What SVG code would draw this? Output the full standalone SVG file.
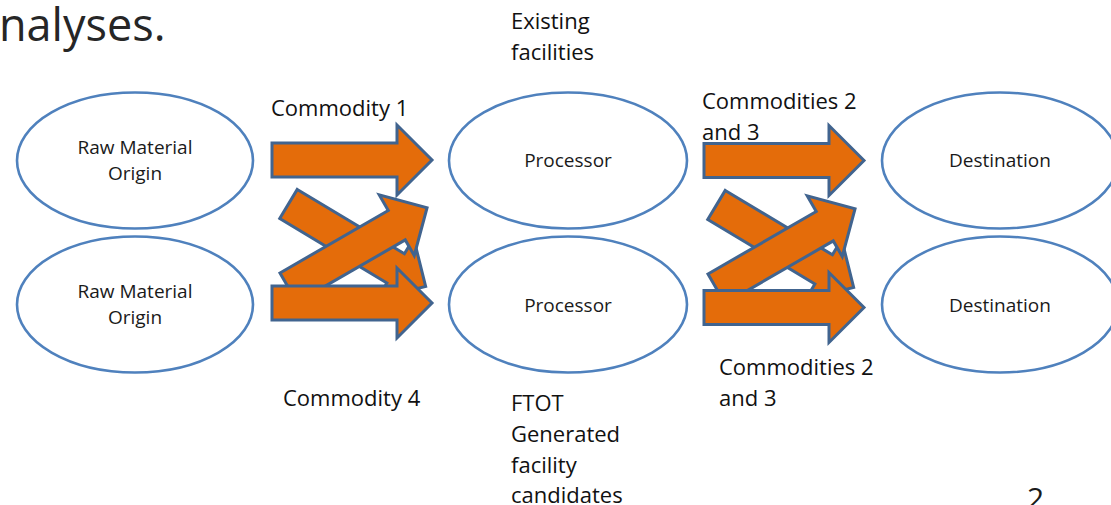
<svg xmlns="http://www.w3.org/2000/svg" xmlns:xlink="http://www.w3.org/1999/xlink" width="1111" height="505" viewBox="0 0 1111 505">
  <style>
    .node { fill: #ffffff; stroke: #4f81bd; stroke-width: 2.6; }
    .ntext { font-family: "Open Sans", "Liberation Sans", sans-serif; font-size: 19px; fill: #1a1a1a; text-anchor: middle; }
    .label { font-family: "Open Sans", "Liberation Sans", sans-serif; font-size: 22px; fill: #111111; }
    .arrow { fill: #e46c0a; stroke: #41648f; stroke-width: 3; stroke-linejoin: miter; }
  </style>
  <defs>
    <path id="bigArrow" d="M0,-17 H125 V-35 L160,0 L125,35 V17 H0 Z"/>
  </defs>
  <rect width="1111" height="505" fill="#ffffff"/>

  <text x="-1" y="41" font-family="'Open Sans', 'Liberation Sans', sans-serif" font-size="45" fill="#262626">nalyses.</text>

  <g id="origin1"><ellipse class="node" cx="135" cy="160.5" rx="118" ry="68"/>
    <text class="ntext" x="135" y="154">Raw Material</text><text class="ntext" x="135" y="180">Origin</text></g>
  <g id="origin2"><ellipse class="node" cx="135" cy="304.5" rx="118" ry="68"/>
    <text class="ntext" x="135" y="298">Raw Material</text><text class="ntext" x="135" y="324">Origin</text></g>
  <g id="processor1"><ellipse class="node" cx="568" cy="160.5" rx="119" ry="68"/>
    <text class="ntext" x="568" y="167">Processor</text></g>
  <g id="processor2"><ellipse class="node" cx="568" cy="304.5" rx="119" ry="68"/>
    <text class="ntext" x="568" y="312">Processor</text></g>
  <g id="destination1"><ellipse class="node" cx="1000" cy="160.5" rx="118" ry="68"/>
    <text class="ntext" x="1000" y="167">Destination</text></g>
  <g id="destination2"><ellipse class="node" cx="1000" cy="304.5" rx="118" ry="68"/>
    <text class="ntext" x="1000" y="312">Destination</text></g>

  <g id="connectors">
    <use xlink:href="#bigArrow" class="arrow" transform="translate(288.5,204) rotate(31)"/>
    <use xlink:href="#bigArrow" class="arrow" transform="translate(288.5,287.7) rotate(-30)"/>
    <use xlink:href="#bigArrow" class="arrow" transform="translate(272,160)"/>
    <use xlink:href="#bigArrow" class="arrow" transform="translate(272,303)"/>

    <use xlink:href="#bigArrow" class="arrow" transform="translate(716.5,205) rotate(31)"/>
    <use xlink:href="#bigArrow" class="arrow" transform="translate(716.5,288.7) rotate(-30)"/>
    <use xlink:href="#bigArrow" class="arrow" transform="translate(704,160.5)"/>
    <use xlink:href="#bigArrow" class="arrow" transform="translate(704,307.5)"/>
  </g>

  <g id="labels">
    <text class="label" x="271" y="116">Commodity 1</text>
    <text class="label" x="511" y="29">Existing</text>
    <text class="label" x="511" y="60">facilities</text>
    <text class="label" x="702" y="109">Commodities 2</text>
    <text class="label" x="702" y="140">and 3</text>
    <text class="label" x="283" y="406">Commodity 4</text>
    <text class="label" x="719" y="375">Commodities 2</text>
    <text class="label" x="719" y="406">and 3</text>
    <text class="label" x="511" y="411">FTOT</text>
    <text class="label" x="511" y="442">Generated</text>
    <text class="label" x="511" y="473">facility</text>
    <text class="label" x="511" y="503">candidates</text>
  </g>

  <text x="1027" y="509" font-family="'Open Sans', 'Liberation Sans', sans-serif" font-size="30" fill="#1a1a1a">2</text>
</svg>
